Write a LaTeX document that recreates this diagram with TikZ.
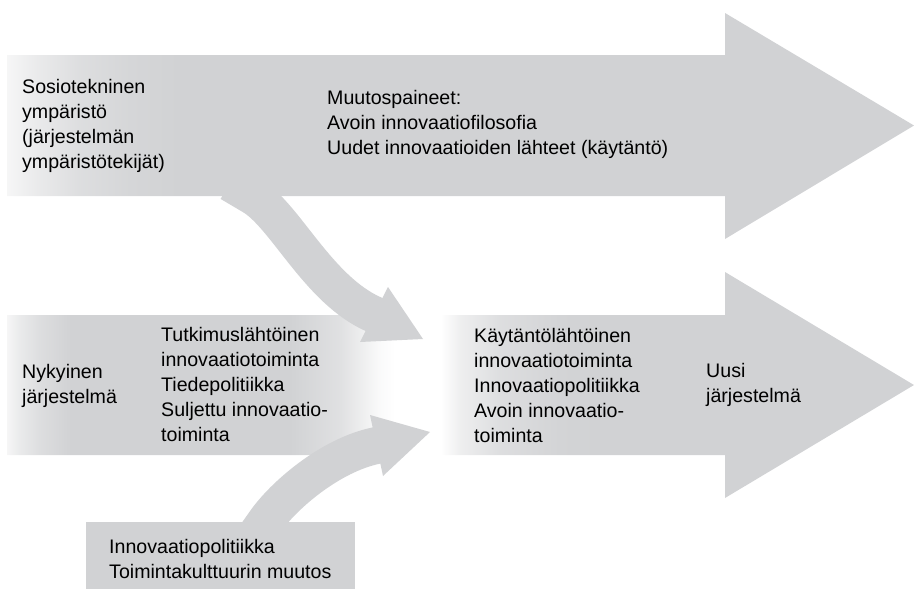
\documentclass[tikz,border=0pt]{standalone}
\usepackage{fontspec}
\setmainfont{Liberation Sans}

% Harmaat savyt
\definecolor{nuoliharmaa}{RGB}{209,210,212}

% Liukuvarit (x = 7 ... 914 vastaa valia 25bp ... 75bp)
\pgfdeclarehorizontalshading{ylaliuku}{100bp}{color(0bp)=(nuoliharmaa!20!white);
  color(25bp)=(nuoliharmaa!20!white); color(26.8bp)=(nuoliharmaa!48!white);
  color(29bp)=(nuoliharmaa!74!white); color(31.8bp)=(nuoliharmaa!91!white);
  color(34.5bp)=(nuoliharmaa); color(100bp)=(nuoliharmaa)}
\pgfdeclarehorizontalshading{alaliuku}{100bp}{color(0bp)=(nuoliharmaa!20!white);
  color(25bp)=(nuoliharmaa!20!white); color(25.7bp)=(nuoliharmaa!46!white);
  color(26.8bp)=(nuoliharmaa!74!white); color(28.5bp)=(nuoliharmaa);
  color(40.6bp)=(nuoliharmaa); color(43.4bp)=(nuoliharmaa!67!white);
  color(45.6bp)=(nuoliharmaa!10!white); color(46.4bp)=(white); color(48.9bp)=(white);
  color(50bp)=(nuoliharmaa!37!white); color(52.2bp)=(nuoliharmaa!74!white);
  color(55.5bp)=(nuoliharmaa!96!white); color(57.7bp)=(nuoliharmaa); color(100bp)=(nuoliharmaa)}

\begin{document}
\begin{tikzpicture}[x=1pt, y=-1pt,
  teksti/.style={anchor=base west, align=left, inner sep=0pt, font=\fontsize{19.6}{25}\selectfont},
  varsi/.style={draw=nuoliharmaa, line width=37pt},
  karki/.style={fill=nuoliharmaa}]

  \useasboundingbox (0,0) rectangle (914,589);

  % Alempi iso nuoli (nykyinen -> uusi jarjestelma)
  \path[shading=alaliuku] (7,315) -- (725,315) -- (725,272) -- (914,385)
    -- (725,498) -- (725,455) -- (7,455) -- cycle;

  % Kaarevat nuolet
  \coordinate (ylavarsi) at (230,183);
  \coordinate (ylakanta) at (374,314.5);
  \coordinate (alavarsi) at (253,539);
  \coordinate (alakanta) at (376.5,445.5);

  \draw[varsi] (ylavarsi) -- (252,196) .. controls (285,215) and (318,290) .. (ylakanta) -- ++(8,3.5);
  \fill[karki] (388,287) -- (423,339) -- (360,342) -- cycle;

  \draw[varsi] (alavarsi) -- (265,522) .. controls (283,496) and (330,455) .. (alakanta) -- ++(8,-2);
  \fill[karki] (370,415) -- (430,432) -- (383,476) -- cycle;

  % Ylempi iso nuoli (sosiotekninen ymparisto)
  \path[shading=ylaliuku] (7,55) -- (725,55) -- (725,13) -- (914,125.5)
    -- (725,239) -- (725,196) -- (7,196) -- cycle;

  % Alalaatikko
  \fill[nuoliharmaa] (86,522) rectangle (355,589);

  % Tekstit (ankkuri = viimeisen rivin perusviiva)
  \node[teksti] (sosio) at (22,168) {Sosiotekninen\\ympäristö\\(järjestelmän\\ympäristötekijät)};
  \node[teksti] (paineet) at (327,154) {Muutospaineet:\\Avoin innovaatiofilosofia\\Uudet innovaatioiden lähteet (käytäntö)};
  \node[teksti] (nykyinen) at (22,403) {Nykyinen\\järjestelmä};
  \node[teksti] (tutkimus) at (161,441) {Tutkimuslähtöinen\\innovaatiotoiminta\\Tiedepolitiikka\\Suljettu innovaatio-\\toiminta};
  \node[teksti] (kaytanto) at (474,442) {Käytäntölähtöinen\\innovaatiotoiminta\\Innovaatiopolitiikka\\Avoin innovaatio-\\toiminta};
  \node[teksti] (uusi) at (706,402) {Uusi\\järjestelmä};
  \node[teksti] (muutos) at (109,578) {Innovaatiopolitiikka\\Toimintakulttuurin muutos};

\end{tikzpicture}
\end{document}
